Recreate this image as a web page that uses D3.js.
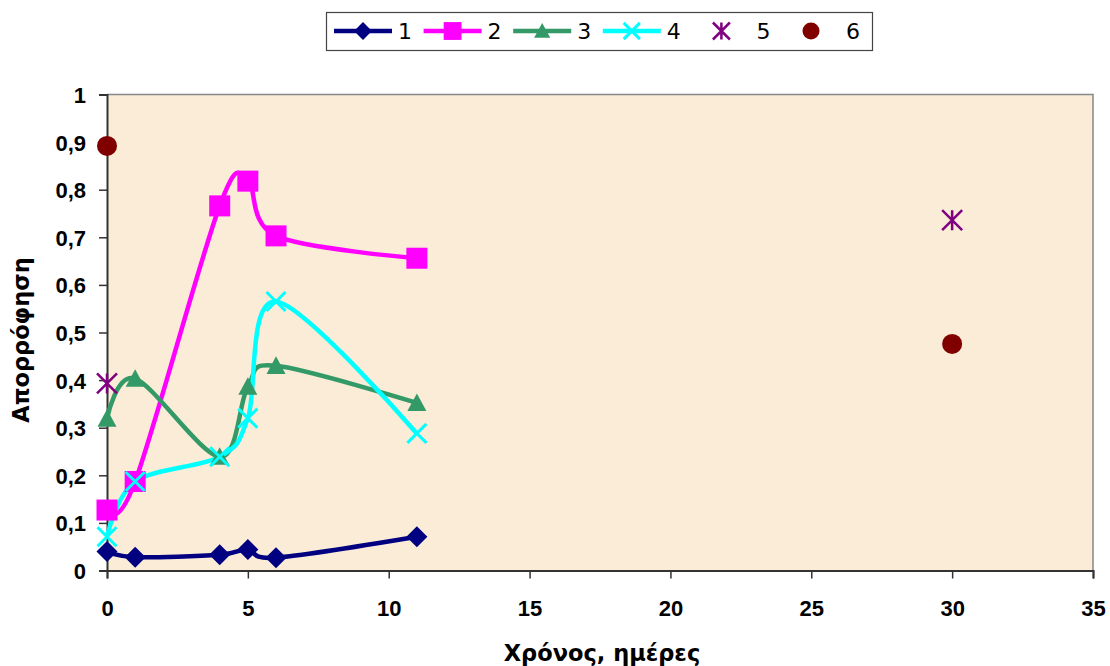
<!DOCTYPE html>
<html><head><meta charset="utf-8">
<script src="https://cdn.jsdelivr.net/npm/d3@7"></script>
<style>body{margin:0;background:#fff}</style>
</head><body>
<svg id="c" width="1110" height="666"></svg>
<script>
const seriesNames = ["1","2","3","4","5","6"];
const x1 = [0,1,4,5,6,11], y1 = [0.040,0.028,0.033,0.044,0.027,0.071];
const x2 = [0,1,4,5,6,11], y2 = [0.127,0.187,0.766,0.818,0.703,0.656];
const x3 = [0,1,4,5,6,11], y3 = [0.319,0.403,0.239,0.386,0.430,0.352];
const x4 = [0,1,4,5,6,11], y4 = [0.071,0.187,0.239,0.320,0.565,0.288];
const x5 = [0,30], y5 = [0.393,0.736];
const x6 = [0,30], y6 = [0.892,0.476];
const xTicks = [0,5,10,15,20,25,30,35];
const yTicks = [0,0.1,0.2,0.3,0.4,0.5,0.6,0.7,0.8,0.9,1];
const xTitle = "Χρόνος, ημέρες";
const yTitle = "Απορρόφηση";

const svg = d3.select("#c");
const L=107,R=1093,T=94.5,B=570.5;
const x = d3.scaleLinear().domain([0,35]).range([L,R]);
const y = d3.scaleLinear().domain([0,1]).range([B,T]);
const font = "'Liberation Sans', Arial, sans-serif";
const tfont = "'DejaVu Sans', Verdana, sans-serif";

svg.append("rect").attr("x",L).attr("y",T).attr("width",R-L).attr("height",B-T).attr("fill","#FAECD6");
svg.append("path").attr("d",`M${L},${T}H${R}V${B}`).attr("fill","none").attr("stroke","#888").attr("stroke-width",1.5);

const xa = svg.append("g").attr("transform",`translate(0,${B})`)
  .call(d3.axisBottom(x).tickValues(xTicks).tickSize(8).tickPadding(22).tickFormat(d3.format("d")));
const ya = svg.append("g").attr("transform",`translate(${L},0)`)
  .call(d3.axisLeft(y).tickValues(yTicks).tickSize(8).tickPadding(13).tickFormat(d=>String(+d.toFixed(1)).replace(".",",")));
[xa,ya].forEach(a=>{
  a.select(".domain").attr("stroke","#333").attr("stroke-width",2);
  a.selectAll(".tick line").attr("stroke","#333").attr("stroke-width",1.5);
  a.selectAll("text").attr("font-family",font).attr("font-weight","bold").attr("font-size",22).attr("fill","#000");
});
ya.selectAll("text").attr("dy","0.36em");

svg.append("text").attr("x",602).attr("y",661).attr("text-anchor","middle")
  .attr("font-family",tfont).attr("font-weight","bold").attr("font-size",22.5).text(xTitle);
svg.append("text").attr("transform","translate(29,340) rotate(-90)").attr("text-anchor","middle")
  .attr("font-family",tfont).attr("font-weight","bold").attr("font-size",22.5).text(yTitle);

const plot = svg.append("g");
const line = d3.line().x(d=>x(d[0])).y(d=>y(d[1])).curve(d3.curveCardinal.tension(0));
const zip = (a,b)=>a.map((v,i)=>[v,b[i]]);

const cfg = [
  {xs:x1,ys:y1,color:"#000080",line:true,marker:"diamond"},
  {xs:x2,ys:y2,color:"#FF00FF",line:true,marker:"square"},
  {xs:x3,ys:y3,color:"#339966",line:true,marker:"triangle"},
  {xs:x4,ys:y4,color:"#00FFFF",line:true,marker:"x"},
  {xs:x5,ys:y5,color:"#800080",line:false,marker:"star"},
  {xs:x6,ys:y6,color:"#800000",line:false,marker:"circle"}
];

function drawMarker(g, type, color, cx, cy, s){
  s = s||1;
  if(type==="diamond"){
    const h=10.5*s; g.append("path").attr("d",`M${cx},${cy-h}L${cx+h},${cy}L${cx},${cy+h}L${cx-h},${cy}Z`).attr("fill",color);
  } else if(type==="square"){
    const h=10.5*s; g.append("rect").attr("x",cx-h).attr("y",cy-h).attr("width",2*h).attr("height",2*h).attr("fill",color);
  } else if(type==="triangle"){
    const h=9.5*s; g.append("path").attr("d",`M${cx},${cy-h}L${cx+h},${cy+h*0.85}L${cx-h},${cy+h*0.85}Z`).attr("fill",color);
  } else if(type==="x"){
    const h=9.5*s; g.append("path").attr("d",`M${cx-h},${cy-h}L${cx+h},${cy+h}M${cx-h},${cy+h}L${cx+h},${cy-h}`).attr("stroke",color).attr("stroke-width",3);
  } else if(type==="star"){
    const h=10*s; g.append("path").attr("d",`M${cx-h},${cy-h}L${cx+h},${cy+h}M${cx-h},${cy+h}L${cx+h},${cy-h}M${cx},${cy-h}L${cx},${cy+h}`).attr("stroke",color).attr("stroke-width",2.5);
  } else if(type==="circle"){
    g.append("circle").attr("cx",cx).attr("cy",cy).attr("r",10*s).attr("fill",color);
  }
}

cfg.forEach(c=>{
  const pts = zip(c.xs,c.ys);
  if(c.line) plot.append("path").attr("d",line(pts)).attr("fill","none").attr("stroke",c.color).attr("stroke-width",4.5);
});
cfg.forEach(c=>{
  zip(c.xs,c.ys).forEach(p=>drawMarker(plot,c.marker,c.color,x(p[0]),y(p[1])));
});

// legend
const lg = svg.append("g");
lg.append("rect").attr("x",326.5).attr("y",12.5).attr("width",546).attr("height",38).attr("fill","#fff").attr("stroke","#444").attr("stroke-width",1.2);
cfg.forEach((c,i)=>{
  const x0 = 334 + i*89.6, cy = 31;
  if(c.line) lg.append("line").attr("x1",x0).attr("x2",x0+58).attr("y1",cy).attr("y2",cy).attr("stroke",c.color).attr("stroke-width",4.5);
  drawMarker(lg,c.marker,c.color,x0+29,cy,0.85);
  lg.append("text").attr("x",x0+64).attr("y",cy).attr("dy","0.36em").attr("font-family",tfont).attr("font-size",22).text(seriesNames[i]);
});
</script>
</body></html>
